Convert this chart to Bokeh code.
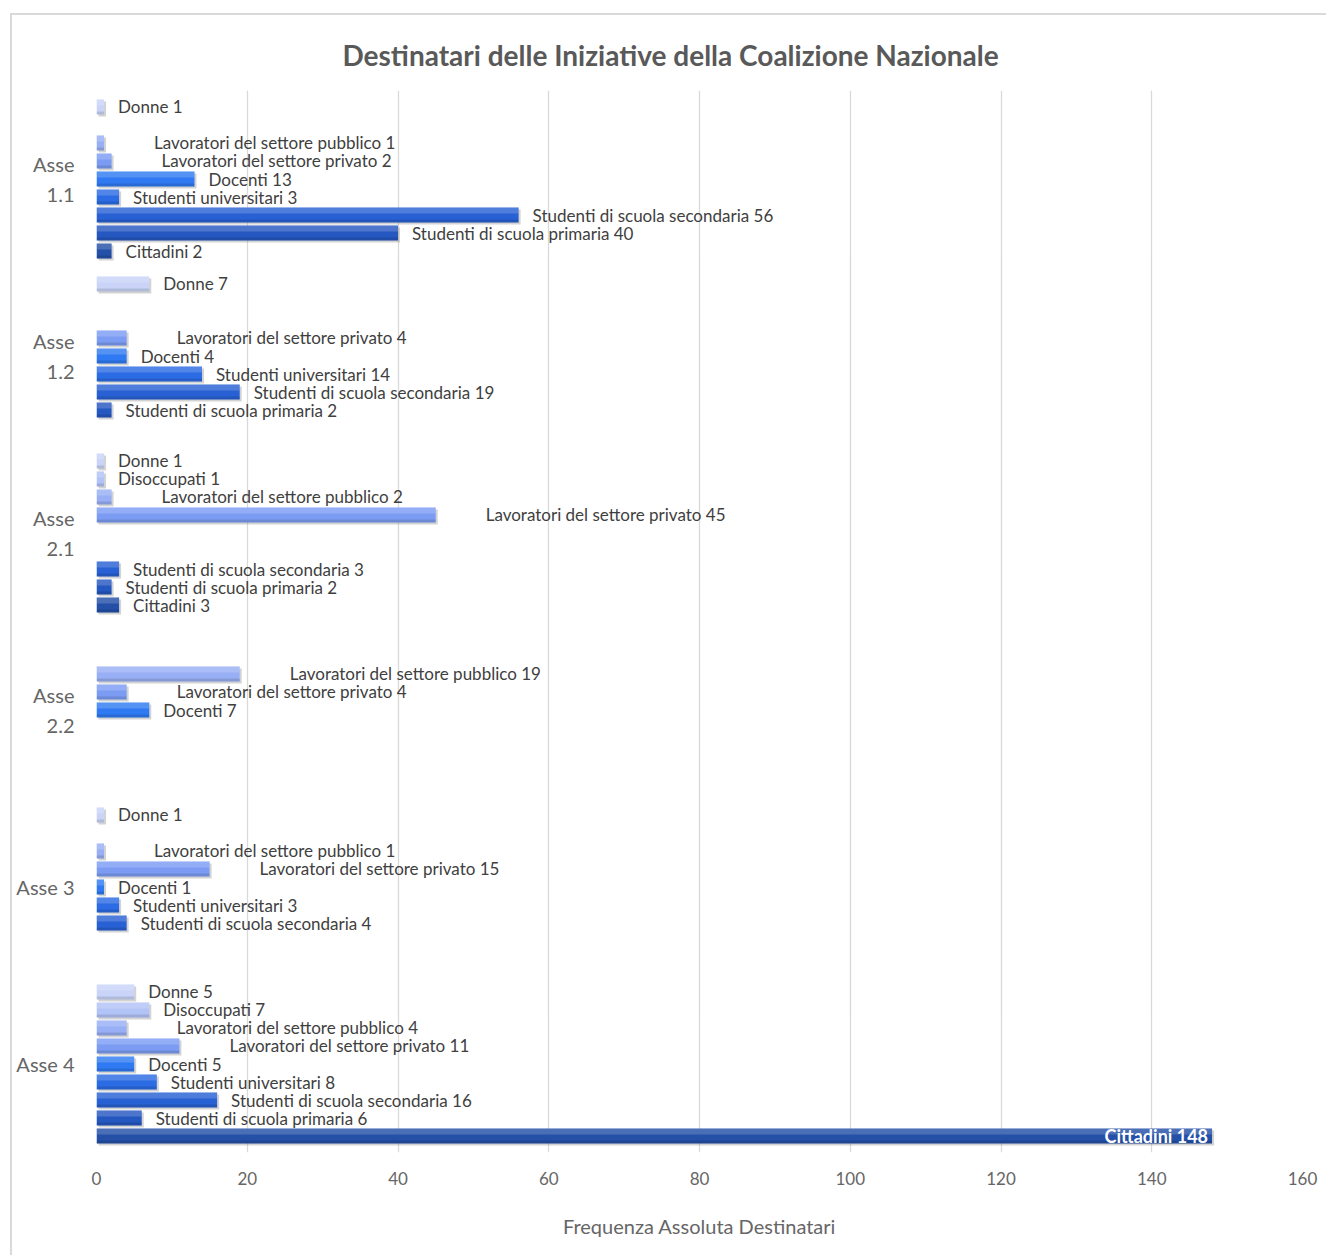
from bokeh.plotting import figure
from bokeh.models import Range1d, FixedTicker, ColumnDataSource
from bokeh.core.properties import value
from bokeh.embed import file_html
from bokeh.resources import INLINE

# ---------------- data ----------------
assi = ["Asse 1.1", "Asse 1.2", "Asse 2.1", "Asse 2.2", "Asse 3", "Asse 4"]
categorie = ["Donne", "Disoccupati", "Lavoratori del settore pubblico",
             "Lavoratori del settore privato", "Docenti", "Studenti universitari",
             "Studenti di scuola secondaria", "Studenti di scuola primaria", "Cittadini"]
asse_1_1 = [1, 0, 1, 2, 13, 3, 56, 40, 2]
asse_1_2 = [7, 0, 0, 4, 4, 14, 19, 2, 0]
asse_2_1 = [1, 1, 2, 45, 0, 0, 3, 2, 3]
asse_2_2 = [0, 0, 19, 4, 7, 0, 0, 0, 0]
asse_3 = [1, 0, 1, 15, 1, 3, 4, 0, 0]
asse_4 = [5, 7, 4, 11, 5, 8, 16, 6, 148]
valori = [asse_1_1, asse_1_2, asse_2_1, asse_2_2, asse_3, asse_4]
x_ticks = [0, 20, 40, 60, 80, 100, 120, 140, 160]

colori = ["#c9d4f8", "#b2c3f7", "#98aff5", "#7c9cf4", "#2f7af2",
          "#2b6be3", "#2861d3", "#2557c0", "#2450a8"]

# ---------------- layout helpers ----------------
PITCH = 10.0          # one category band
SLOT = 1.017          # distance between two bars inside a band
BAR_H = 0.85
FONT = "Lato"

rows = {"x": [], "y": [], "c": []}
lab = {"x": [], "y": [], "lab": [], "xoff": []}
inside = {"x": [], "y": [], "lab": []}
for gi, vals in enumerate(valori):
    for ci, v in enumerate(vals):
        if v <= 0:
            continue
        y = gi * PITCH + (ci - 4) * SLOT
        rows["x"].append(v)
        rows["y"].append(y)
        rows["c"].append(colori[ci])
        t = f"{categorie[ci]} {v}"
        if v > 100:
            inside["x"].append(v)
            inside["y"].append(y)
            inside["lab"].append(t)
        else:
            lab["x"].append(v)
            lab["y"].append(y)
            lab["lab"].append(t)
            lab["xoff"].append(50 if categorie[ci].startswith("Lavoratori") else 14)

src = ColumnDataSource(rows)
lab_src = ColumnDataSource(lab)
in_src = ColumnDataSource(inside)

p = figure(width=1316, height=1242,
           x_range=Range1d(0, 160),
           y_range=Range1d(len(assi) * PITCH - PITCH / 2, -PITCH / 2),
           output_backend="svg", toolbar_location=None,
           min_border_left=84, min_border_right=26,
           min_border_top=75, min_border_bottom=105,
           styles={"border-left": "2px solid #d9d9d9",
                   "border-top": "2px solid #d9d9d9",
                   "margin-left": "10px", "margin-top": "13px"})
p.outline_line_color = None
p.background_fill_color = "white"
p.border_fill_color = "white"

# title
p.title.text = "Destinatari delle Iniziative della Coalizione Nazionale"
p.title.align = "left"
p.title.offset = 246
p.title.text_font = FONT
p.title.text_font_size = "28px"
p.title.text_font_style = "bold"
p.title.text_color = "#595959"
p.title.standoff = 34
p.title.vertical_align = "top"

# grid
p.ygrid.grid_line_color = None
p.xgrid.grid_line_color = "#d9d9d9"
p.xgrid.grid_line_width = 1.3
p.xgrid.ticker = FixedTicker(ticks=x_ticks)

# x axis
p.xaxis.ticker = FixedTicker(ticks=x_ticks)
p.xaxis.axis_line_color = None
p.xaxis.major_tick_line_color = None
p.xaxis.minor_tick_line_color = None
p.xaxis.major_label_standoff = 13
p.xaxis.major_label_text_font = FONT
p.xaxis.major_label_text_font_size = "17px"
p.xaxis.major_label_text_color = "#666666"
p.xaxis.axis_label = "Frequenza Assoluta Destinatari"
p.xaxis.axis_label_text_font = FONT
p.xaxis.axis_label_text_font_size = "20px"
p.xaxis.axis_label_text_font_style = "normal"
p.xaxis.axis_label_text_color = "#666666"
p.xaxis.axis_label_standoff = 26

# y axis
centers = [gi * PITCH for gi in range(len(assi))]
p.yaxis.ticker = FixedTicker(ticks=centers)
p.yaxis.major_label_overrides = {
    c: (a.replace(" ", "\n") if "." in a else a) for c, a in zip(centers, assi)}
p.yaxis.axis_line_color = None
p.yaxis.major_tick_line_color = None
p.yaxis.minor_tick_line_color = None
p.yaxis.major_label_standoff = 16
p.yaxis.major_label_text_font = FONT
p.yaxis.major_label_text_font_size = "20px"
p.yaxis.major_label_text_color = "#666666"
p.yaxis.major_label_text_align = "center"
p.yaxis.major_label_text_line_height = 1.25

# bars: shadow, body, highlight, dark bottom
dx = 2 * 160 / 1206
dy = 2 * PITCH / 177
shadow_src = ColumnDataSource(dict(x=[v + dx for v in rows["x"]],
                                   y=[y + dy for y in rows["y"]]))
p.hbar(y="y", left=dx, right="x", height=BAR_H, source=shadow_src,
       fill_color="#808080", fill_alpha=0.35, line_color=None)
p.hbar(y="y", left=0, right="x", height=BAR_H, source=src,
       fill_color="c", line_color=None)
hl_src = ColumnDataSource(dict(x=rows["x"], y=[y - BAR_H * 0.3 for y in rows["y"]]))
p.hbar(y="y", left=0, right="x", height=BAR_H * 0.4, source=hl_src,
       fill_color="white", fill_alpha=0.18, line_color=None)
dk_src = ColumnDataSource(dict(x=rows["x"], y=[y + BAR_H * 0.4 for y in rows["y"]]))
p.hbar(y="y", left=0, right="x", height=BAR_H * 0.2, source=dk_src,
       fill_color="black", fill_alpha=0.12, line_color=None)

# labels
p.text(x="x", y="y", text="lab", x_offset="xoff", source=lab_src,
       text_font=value(FONT), text_font_size="17px", text_color="#404040",
       text_baseline="middle", text_align="left")
p.text(x="x", y="y", text="lab", x_offset=-4, source=in_src,
       text_font=value(FONT), text_font_size="18px", text_font_style="bold",
       text_color="white", text_baseline="middle", text_align="right")

open("out.html", "w").write(file_html(p, INLINE))
